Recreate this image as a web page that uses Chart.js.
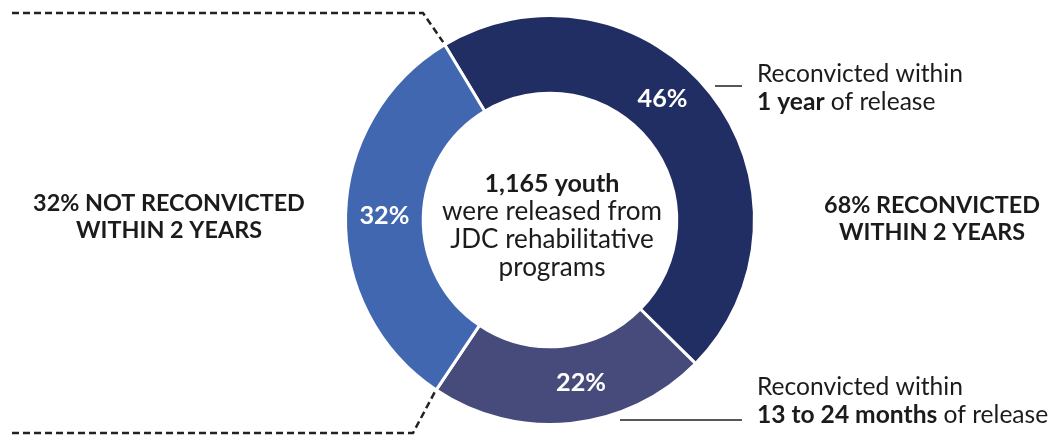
<!DOCTYPE html>
<html>
<head>
<meta charset="utf-8">
<script src="https://cdn.jsdelivr.net/npm/chart.js@4"></script>
<style>
  html, body { margin: 0; padding: 0; background: #fff; }
</style>
</head>
<body>
<canvas id="chart" width="1061" height="436"></canvas>
<script>
// data
const categories = ['Reconvicted within 1 year', 'Reconvicted within 13 to 24 months', 'Not reconvicted within 2 years'];
const shares = [46, 22, 32];
const shareLabels = ['46%', '22%', '32%'];
const sliceColors = ['#212e63', '#474b7c', '#4167b1'];
const labelShift = [-9, -5, 0]; // degrees, the original labels sit a bit off-centre

const FONT = 'Lato, "Open Sans", sans-serif';
const INK = '#1b1b1b';

// font size that makes `text` span `width` px
function fitSize(ctx, text, weight, width) {
  ctx.font = weight + ' 100px ' + FONT;
  return 100 * width / ctx.measureText(text).width;
}

// draws runs of [text, bold] side by side starting at x
function drawRuns(ctx, runs, x, y, size) {
  runs.forEach(([t, bold]) => {
    ctx.font = (bold ? 'bold ' : '') + size + 'px ' + FONT;
    ctx.fillText(t, x, y);
    x += ctx.measureText(t).width;
  });
}

const annotations = {
  id: 'annotations',
  afterDatasetsDraw(chart) {
    const ctx = chart.ctx;
    const arcs = chart.getDatasetMeta(0).data;
    ctx.save();
    ctx.textBaseline = 'middle';

    // percentages inside the ring
    ctx.fillStyle = '#fff';
    ctx.textAlign = 'center';
    const pctSize = fitSize(ctx, '46%', 'bold', 50);
    ctx.font = 'bold ' + pctSize + 'px ' + FONT;
    arcs.forEach((arc, i) => {
      const p = arc.getProps(['x', 'y', 'startAngle', 'endAngle', 'innerRadius', 'outerRadius'], true);
      const a = (p.startAngle + p.endAngle) / 2 + labelShift[i] * Math.PI / 180;
      const r = (p.innerRadius + p.outerRadius) / 2;
      ctx.fillText(shareLabels[i], p.x + r * Math.cos(a), p.y + r * Math.sin(a));
    });

    // dashed brackets round the "not reconvicted" slice
    const s = arcs[2].getProps(['x', 'y', 'startAngle', 'endAngle', 'outerRadius'], true);
    const R = s.outerRadius + 3;
    ctx.strokeStyle = '#222';
    ctx.lineWidth = 2.5;
    ctx.setLineDash([7, 4]);
    ctx.beginPath();
    ctx.moveTo(12, 13);
    ctx.lineTo(423, 13);
    ctx.lineTo(s.x + R * Math.cos(s.endAngle), s.y + R * Math.sin(s.endAngle));
    ctx.moveTo(12, 433);
    ctx.lineTo(413, 433);
    ctx.lineTo(s.x + R * Math.cos(s.startAngle), s.y + R * Math.sin(s.startAngle));
    ctx.stroke();
    ctx.setLineDash([]);

    // centre text
    ctx.fillStyle = INK;
    const cx = s.x + 2;
    const headSize = fitSize(ctx, '1,165 youth', 'bold', 135);
    ctx.font = 'bold ' + headSize + 'px ' + FONT;
    ctx.fillText('1,165 youth', cx, 184);
    const bodySize = fitSize(ctx, 'were released from', 'normal', 220);
    ctx.font = bodySize + 'px ' + FONT;
    ctx.fillText('were released from', cx, 212);
    ctx.fillText('JDC rehabilitative', cx, 240);
    ctx.fillText('programs', cx, 268);

    // side totals
    const sideSize = fitSize(ctx, '32% NOT RECONVICTED', 'bold', 272);
    ctx.font = 'bold ' + sideSize + 'px ' + FONT;
    ctx.fillText('32% NOT RECONVICTED', 169, 203);
    ctx.fillText('WITHIN 2 YEARS', 169, 230);
    ctx.fillText('68% RECONVICTED', 932, 205);
    ctx.fillText('WITHIN 2 YEARS', 932, 232);

    // callouts on the right
    ctx.textAlign = 'left';
    const noteSize = fitSize(ctx, 'Reconvicted within', 'normal', 206);
    ctx.font = noteSize + 'px ' + FONT;
    ctx.fillText('Reconvicted within', 757, 74);
    drawRuns(ctx, [['1 year', true], [' of release', false]], 757, 102, noteSize);
    ctx.font = noteSize + 'px ' + FONT;
    ctx.fillText('Reconvicted within', 757, 387);
    drawRuns(ctx, [['13 to 24 months', true], [' of release', false]], 757, 415, noteSize);

    ctx.strokeStyle = '#222';
    ctx.lineWidth = 1.5;
    ctx.beginPath();
    ctx.moveTo(715, 86);
    ctx.lineTo(742, 86);
    ctx.moveTo(620, 420);
    ctx.lineTo(742, 420);
    ctx.stroke();
    ctx.restore();
  }
};

new Chart(document.getElementById('chart'), {
  type: 'doughnut',
  data: {
    labels: categories,
    datasets: [{
      data: shares,
      backgroundColor: sliceColors,
      borderColor: '#fff',
      borderWidth: 3,
      hoverOffset: 0
    }]
  },
  options: {
    responsive: false,
    animation: false,
    rotation: -31,
    cutout: '62%',
    layout: { padding: { top: 14, bottom: 10, left: 39, right: 0 } },
    plugins: {
      legend: { display: false },
      tooltip: { enabled: false }
    }
  },
  plugins: [annotations]
});
</script>
</body>
</html>
